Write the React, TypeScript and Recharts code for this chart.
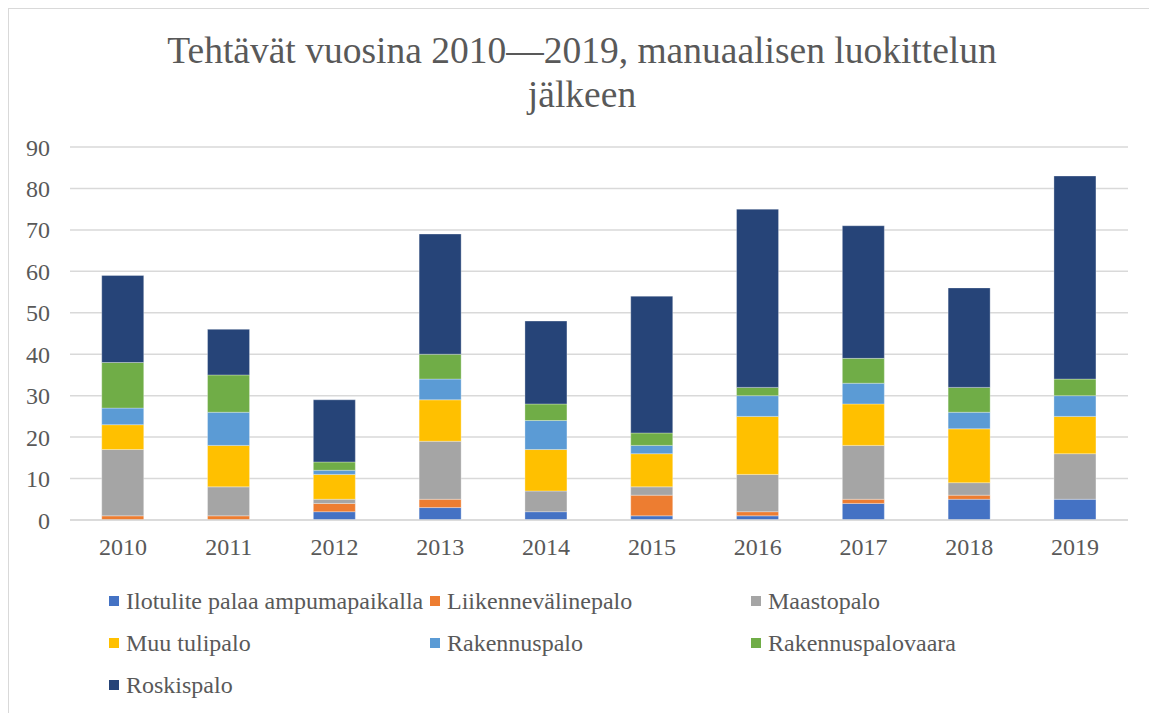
import React from "react";
import { BarChart, Bar, XAxis, YAxis, CartesianGrid } from "recharts";

const years = ["2010", "2011", "2012", "2013", "2014", "2015", "2016", "2017", "2018", "2019"];

const ilotulite = [0, 0, 2, 3, 2, 1, 1, 4, 5, 5];
const liikenne = [1, 1, 2, 2, 0, 5, 1, 1, 1, 0];
const maasto = [16, 7, 1, 14, 5, 2, 9, 13, 3, 11];
const muuTuli = [6, 10, 6, 10, 10, 8, 14, 10, 13, 9];
const rakennus = [4, 8, 1, 5, 7, 2, 5, 5, 4, 5];
const rakennusVaara = [11, 9, 2, 6, 4, 3, 2, 6, 6, 4];
const roskis = [21, 11, 15, 29, 20, 33, 43, 32, 24, 49];

const yTicks = [0, 10, 20, 30, 40, 50, 60, 70, 80, 90];

const series = [
  { key: "ilotulite", name: "Ilotulite palaa ampumapaikalla", color: "#4472C4", values: ilotulite },
  { key: "liikenne", name: "Liikennevälinepalo", color: "#ED7D31", values: liikenne },
  { key: "maasto", name: "Maastopalo", color: "#A5A5A5", values: maasto },
  { key: "muuTuli", name: "Muu tulipalo", color: "#FFC000", values: muuTuli },
  { key: "rakennus", name: "Rakennuspalo", color: "#5B9BD5", values: rakennus },
  { key: "rakennusVaara", name: "Rakennuspalovaara", color: "#70AD47", values: rakennusVaara },
  { key: "roskis", name: "Roskispalo", color: "#264478", values: roskis },
];

const data = years.map((year, i) => {
  const row: Record<string, string | number> = { year };
  series.forEach((s) => {
    row[s.key] = s.values[i];
  });
  return row;
});

const font = '"Liberation Serif", "Times New Roman", serif';
const textColor = "#595959";

export default function App() {
  return (
    <div
      style={{
        position: "relative",
        width: 1146,
        height: 720,
        border: "1px solid #d9d9d9",
        background: "#fff",
        fontFamily: font,
        color: textColor,
        overflow: "hidden",
      }}
    >
      <div
        style={{
          position: "absolute",
          top: 20,
          left: 0,
          width: "100%",
          textAlign: "center",
          fontSize: 37.5,
          lineHeight: "44px",
        }}
      >
        Tehtävät vuosina 2010—2019, manuaalisen luokittelun
        <br />
        jälkeen
      </div>
      <BarChart
        width={1146}
        height={560}
        data={data}
        margin={{ top: 138, right: 27, bottom: 9, left: 0 }}
        barCategoryGap="30%"
      >
        <CartesianGrid vertical={false} stroke="#d9d9d9" strokeWidth={1.5} />
        <XAxis
          dataKey="year"
          height={40}
          axisLine={{ stroke: "#d9d9d9", strokeWidth: 1.5 }}
          tickLine={false}
          tickSize={0}
          tickMargin={18}
          tick={{ fontSize: 24, fill: textColor, fontFamily: font }}
        />
        <YAxis
          width={61}
          domain={[0, 90]}
          ticks={yTicks}
          axisLine={false}
          tickLine={false}
          tickSize={0}
          tickMargin={20}
          tick={{ fontSize: 24, fill: textColor, fontFamily: font }}
        />
        {series.map((s) => (
          <Bar
            key={s.key}
            dataKey={s.key}
            name={s.name}
            stackId="a"
            fill={s.color}
            stroke="#ffffff"
            strokeOpacity={0.4}
            strokeWidth={0.75}
            isAnimationActive={false}
          />
        ))}
      </BarChart>
      <div
        style={{
          position: "absolute",
          top: 571,
          left: 100,
          display: "grid",
          gridTemplateColumns: "321px 321px 321px",
          fontSize: 24,
          lineHeight: "42px",
        }}
      >
        {series.map((s) => (
          <div key={s.key} style={{ display: "flex", alignItems: "center", whiteSpace: "nowrap" }}>
            <span
              style={{
                display: "inline-block",
                width: 10,
                height: 10,
                background: s.color,
                marginRight: 7,
              }}
            />
            {s.name}
          </div>
        ))}
      </div>
    </div>
  );
}
